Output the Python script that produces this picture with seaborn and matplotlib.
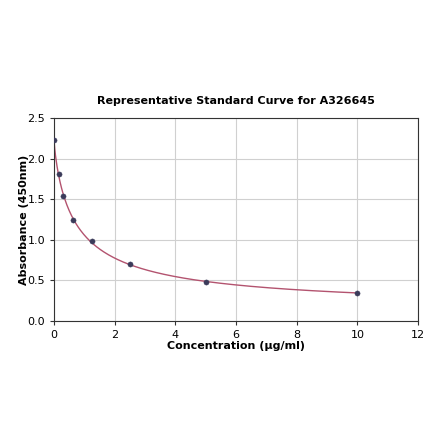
import numpy as np
import pandas as pd
import matplotlib
matplotlib.use('Agg')
import matplotlib.pyplot as plt
import seaborn as sns

# Стандартные точки
concentration = [0, 0.156, 0.3125, 0.625, 1.25, 2.5, 5, 10]
absorbance = [2.23, 1.81, 1.54, 1.24, 0.985, 0.70, 0.48, 0.345]

x_ticks = [0, 2, 4, 6, 8, 10, 12]
y_ticks = [0.0, 0.5, 1.0, 1.5, 2.0, 2.5]


# Аппроксимация 4PL (простой Гаусс-Ньютон на numpy)
def four_pl(x, p):
    a, b, c, d = p
    return d + (a - d) / (1 + (np.asarray(x) / c) ** b)


def fit_4pl(x, y, p0, n_iter=200):
    x = np.asarray(x, float)
    y = np.asarray(y, float)
    p = np.array(p0, float)
    for _ in range(n_iter):
        r = y - four_pl(x, p)
        J = np.zeros((len(x), len(p)))
        for i in range(len(p)):
            dp = np.zeros_like(p)
            dp[i] = 1e-6 * max(abs(p[i]), 1e-3)
            J[:, i] = (four_pl(x, p + dp) - four_pl(x, p)) / dp[i]
        step, *_ = np.linalg.lstsq(J, r, rcond=None)
        p_new = p + 0.5 * step
        p_new[2] = max(p_new[2], 1e-4)
        p = p_new
    return p


params = fit_4pl(concentration, absorbance, [2.25, 0.8, 0.8, 0.1])
x_fit = np.linspace(0, 10, 400)
y_fit = four_pl(x_fit, params)

df = pd.DataFrame({'conc': concentration, 'abs': absorbance})
fit_df = pd.DataFrame({'conc': x_fit, 'abs': y_fit})

sns.set_style('whitegrid')
plt.rcParams['font.family'] = ['DejaVu Sans']
plt.rcParams['text.color'] = 'black'
plt.rcParams['axes.labelcolor'] = 'black'
plt.rcParams['xtick.color'] = 'black'
plt.rcParams['ytick.color'] = 'black'

fig = plt.figure(figsize=(4.4, 4.41), dpi=100)
ax = fig.add_axes([0.1227, 0.2721, 0.8273, 0.4603])

sns.lineplot(data=fit_df, x='conc', y='abs', ax=ax, color='#b3536f', linewidth=1.0)
sns.scatterplot(data=df, x='conc', y='abs', ax=ax, color='#3b3b5a', s=14,
                edgecolor='#3b3b5a', zorder=3)

ax.set_xlim(0, 12)
ax.set_ylim(0, 2.5)
ax.set_xticks(x_ticks)
ax.set_yticks(y_ticks)
ax.set_xticklabels([str(t) for t in x_ticks])
ax.set_yticklabels([f'{t:.1f}' for t in y_ticks])
ax.tick_params(labelsize=8, length=3, color='#333333', left=True, bottom=True)
ax.grid(True, color='#d0d0d0', linewidth=0.8)
for s in ax.spines.values():
    s.set_color('#333333')
    s.set_linewidth(0.8)

ax.set_title('Representative Standard Curve for A326645', fontsize=8,
             fontweight='bold', pad=10)
ax.set_xlabel('Concentration (µg/ml)', fontsize=8, fontweight='bold', labelpad=1)
ax.set_ylabel('Absorbance (450nm)', fontsize=8, fontweight='bold', labelpad=-1)

fig.savefig('out.png', dpi=100)
